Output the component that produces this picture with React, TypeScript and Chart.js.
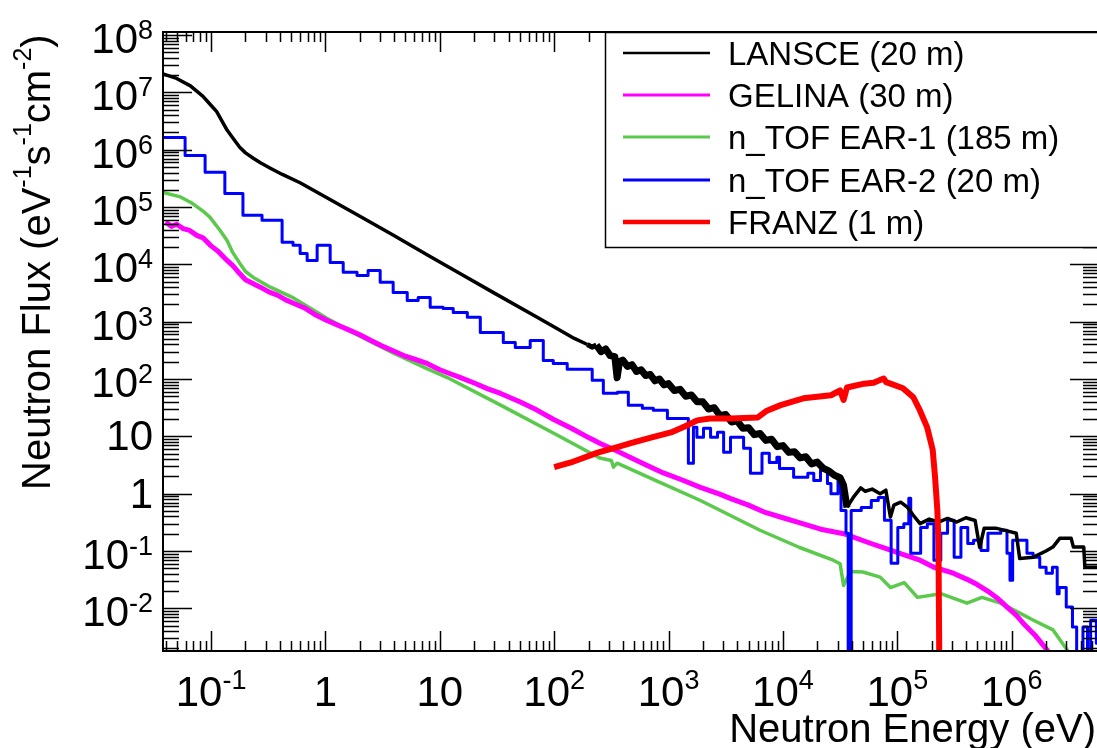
import React, { useEffect, useRef } from "react";
import { Chart, registerables } from "chart.js";

Chart.register(...registerables);

// Axis ranges (eV, flux)
const X_MIN = 0.038;
const X_MAX = 5.8e6;
const Y_MIN = 1.8e-3;
const Y_MAX = 1.13e8;

// Decade exponents that carry labels
const xTickExps = [-1, 0, 1, 2, 3, 4, 5, 6];
const yTickExps = [-2, -1, 0, 1, 2, 3, 4, 5, 6, 7, 8];

const xTitle = "Neutron Energy (eV)";
const seriesNames = [
  "LANSCE (20 m)",
  "GELINA (30 m)",
  "n_TOF EAR-1 (185 m)",
  "n_TOF EAR-2 (20 m)",
  "FRANZ (1 m)",
];
const seriesColors = ["#000000", "#ff00ff", "#5ac94c", "#0000ff", "#ff0000"];

// [energy eV, flux]
const lansce: [number, number][] = [
  [0.038, 2.1e7], [0.05, 1.75e7], [0.066, 1.3e7], [0.085, 8.5e6], [0.098, 6.2e6],
  [0.112, 4.6e6], [0.138, 2.2e6], [0.155, 1.6e6], [0.178, 1.1e6], [0.2, 8.8e5],
  [0.234, 7.1e5], [0.27, 5.9e5], [0.33, 4.75e5], [0.42, 3.7e5], [0.6, 2.65e5],
  [1.03, 1.45e5], [2.0, 6.9e4], [3.9, 3.25e4], [7.8, 1.45e4], [15, 6.9e3],
  [30, 3.15e3], [71, 1.19e3], [102, 790], [150, 510],
  [195, 400], [214, 360], [234, 390], [257, 300], [282, 335], [309, 255], [339, 245],
  [355, 105], [372, 200], [398, 214], [437, 166], [479, 178], [525, 135], [575, 145],
  [631, 115], [692, 120], [759, 93], [832, 100], [912, 79], [1000, 83], [1122, 63],
  [1259, 66], [1413, 50], [1585, 52.5], [1778, 40], [1995, 40], [2239, 30], [2512, 31.6],
  [2818, 22.9], [3162, 24], [3548, 17.8], [3981, 18.6], [4467, 13.8], [5012, 14.1],
  [5623, 10.7], [6310, 11.2], [7079, 8.5], [7943, 8.9], [8913, 6.6], [10000, 6.9],
  [11220, 5.25], [12589, 5.4], [14125, 4.2], [15849, 4.4], [17783, 3.3], [19953, 3.55],
  [22387, 2.8], [25119, 2.5], [28184, 2.1], [31623, 1.9], [33884, 1.4], [36308, 0.575],
  [41700, 0.89], [47900, 1.26], [52500, 1.1], [60300, 1.2], [70800, 1.0], [79400, 1.15],
  [87100, 0.39], [93300, 0.63], [107000, 0.71], [123000, 0.575], [138000, 0.42],
  [158000, 0.3], [190000, 0.36], [229000, 0.32], [275000, 0.37], [331000, 0.32],
  [398000, 0.38], [479000, 0.34], [525000, 0.115], [575000, 0.25], [724000, 0.25],
  [912000, 0.224], [1096000, 0.204], [1175000, 0.074], [1549000, 0.078], [1995000, 0.1],
  [2291000, 0.117], [2630000, 0.166], [3311000, 0.166], [3467000, 0.117], [4266000, 0.117],
  [4365000, 0.052], [6310000, 0.052],
];

const gelina: [number, number][] = [
  [0.04, 5.5e4], [0.045, 4.6e4], [0.05, 5.0e4], [0.057, 4.2e4], [0.065, 3.9e4],
  [0.075, 3.2e4], [0.085, 2.9e4], [0.1, 2.1e4], [0.115, 1.7e4], [0.138, 1.17e4],
  [0.155, 9.5e3], [0.178, 6.9e3], [0.2, 5.4e3], [0.23, 4.7e3], [0.27, 4.0e3],
  [0.32, 3.3e3], [0.38, 2.9e3], [0.45, 2.4e3], [0.525, 2.1e3], [0.65, 1.75e3],
  [0.8, 1.35e3], [1.03, 1.05e3], [1.3, 860], [1.6, 720], [2.0, 590], [2.5, 470],
  [3.1, 380], [3.9, 310], [5.0, 250], [6.3, 215], [7.8, 185], [10, 145], [12, 126],
  [15, 107], [20, 85], [26, 68], [34, 56], [50, 40], [70, 29], [100, 19.5], [140, 14],
  [200, 9.5], [250, 7.6], [350, 5.6], [500, 4.0], [630, 3.2], [900, 2.3], [1300, 1.75],
  [1900, 1.29], [2800, 0.98], [3500, 0.82], [5000, 0.63], [7000, 0.47], [10000, 0.38],
  [14100, 0.31], [21400, 0.24], [34000, 0.2], [58900, 0.135], [80000, 0.11],
  [110000, 0.088], [158000, 0.069], [209000, 0.052], [309000, 0.041], [407000, 0.032],
  [500000, 0.026], [617000, 0.02], [750000, 0.015], [912000, 0.0105], [1.1e6, 0.0075],
  [1.26e6, 0.0055], [1.6e6, 0.0034], [2.04e6, 0.00186], [2.3e6, 0.0014],
];

const nTofEar1: [number, number][] = [
  [0.038, 1.8e5], [0.054, 1.5e5], [0.069, 1.15e5], [0.085, 8.5e4], [0.098, 6.6e4],
  [0.12, 3.9e4], [0.138, 2.6e4], [0.155, 1.6e4], [0.178, 1.05e4], [0.2, 7.5e3],
  [0.234, 5.9e3], [0.33, 4.0e3], [0.525, 2.6e3], [1.03, 1.15e3], [2.0, 560],
  [3.9, 285], [7.8, 150], [11.5, 107], [34, 35], [100, 11.2], [250, 4.2], [316, 3.8],
  [330, 2.9], [355, 3.4], [794, 1.66], [1900, 0.76], [6300, 0.23], [14000, 0.115],
  [27500, 0.069], [31600, 0.06], [33900, 0.025], [38900, 0.044], [50000, 0.043],
  [70800, 0.035], [87100, 0.023], [115000, 0.028], [150000, 0.0155], [240000, 0.018],
  [407000, 0.0123], [550000, 0.0155], [800000, 0.0123], [1.05e6, 0.0093],
  [1.55e6, 0.0062], [2.3e6, 0.0042], [3.1e6, 0.0018], [3.4e6, 0.0012],
];

// histogram: [bin left edge, value]
const nTofEar2: [number, number][] = [
  [0.038, 1.64e6], [0.0593, 7.9e5], [0.0887, 4.03e5], [0.132, 1.73e5], [0.19, 7.2e4],
  [0.279, 5.85e4], [0.418, 2.42e4], [0.521, 2.15e4], [0.601, 1.55e4], [0.692, 1.17e4],
  [0.846, 2.15e4], [1.1, 1.08e4], [1.43, 7.25e3], [1.89, 6.4e3], [2.36, 7.85e3],
  [3.01, 4.85e3], [3.91, 3.24e3], [5.19, 2.35e3], [6.47, 2.65e3], [8.24, 1.78e3],
  [10.7, 1.7e3], [13.1, 1.45e3], [17.4, 1.19e3], [22.6, 650], [35.9, 435], [45.7, 356],
  [61.7, 470], [80.3, 211], [98.2, 187], [130, 148], [215, 95], [269, 56.5], [357, 58.5],
  [445, 34.9], [590, 31], [736, 28.4], [977, 20.5], [1490, 3.4], [1650, 14.4],
  [1770, 9.6], [2020, 13.8], [2330, 9.6], [2680, 11.8], [3030, 5.25], [3480, 9.6],
  [4530, 6.2], [5200, 2.27], [6560, 5.05], [7600, 3.5], [8850, 4.3], [9340, 2.76],
  [12400, 1.93], [16500, 2.27], [18600, 1.7], [21300, 2.55], [24500, 1.5], [26300, 1.0],
  [30300, 1.93], [32200, 0.51], [35600, 0.204], [37200, 1e-4], [39500, 0.51],
  [48400, 0.575], [59200, 0.76], [68200, 0.86], [77200, 0.343], [88300, 0.061],
  [101000, 0.257], [114000, 0.3], [126000, 0.83], [131000, 0.091], [160000, 0.257],
  [183000, 0.3], [209000, 0.069], [240000, 0.204], [275000, 0.343], [314000, 0.078],
  [360000, 0.257], [413000, 0.135], [464000, 0.154], [540000, 0.102], [620000, 0.204],
  [803000, 0.23], [910000, 0.091], [966000, 0.031], [1.02e6, 0.154], [1.36e6, 0.091],
  [1.54e6, 0.078], [1.76e6, 0.052], [2.0e6, 0.041], [2.27e6, 0.052], [2.5e6, 0.018],
  [2.6e6, 0.023], [3.0e6, 0.0105], [3.4e6, 0.0047], [3.7e6, 1e-4], [4.2e6, 0.0047],
  [4.6e6, 1e-4], [4.9e6, 0.0062], [5.5e6, 0.00245], [5.8e6, 0.00245],
];

const franz: [number, number][] = [
  [100, 2.9], [140, 3.5], [240, 5.2], [350, 6.4], [468, 7.6], [700, 9.5], [1050, 11.7],
  [1400, 15], [1780, 19], [2300, 20.5], [3470, 20.4], [6030, 21.4], [7240, 28],
  [9550, 35], [15100, 46], [26300, 52], [31600, 63], [33900, 43], [36300, 71],
  [51300, 83], [62000, 86], [75900, 102], [80000, 88], [87100, 83], [112000, 69],
  [138000, 48], [158000, 28], [182000, 14.5], [204000, 5.8], [214000, 1.9],
  [224000, 0.51], [229000, 0.135], [234000, 3e-4],
];

const FONT = '"Liberation Sans", Arial, Helvetica, sans-serif';

function expLabel(e: number): [string, string] {
  if (e === 0) return ["1", ""];
  if (e === 1) return ["10", ""];
  return ["10", String(e)];
}

function drawSup(
  ctx: CanvasRenderingContext2D,
  base: string,
  exp: string,
  x: number,
  baseline: number,
  align: "center" | "right",
  baseSize: number,
  supSize: number,
  raise: number
) {
  ctx.font = `${baseSize}px ${FONT}`;
  const wb = ctx.measureText(base).width;
  ctx.font = `${supSize}px ${FONT}`;
  const we = exp ? ctx.measureText(exp).width : 0;
  const total = wb + we;
  const sx = align === "center" ? x - total / 2 : x - total;
  ctx.textAlign = "left";
  ctx.textBaseline = "alphabetic";
  ctx.font = `${baseSize}px ${FONT}`;
  ctx.fillText(base, sx, baseline);
  if (exp) {
    ctx.font = `${supSize}px ${FONT}`;
    ctx.fillText(exp, sx + wb, baseline - raise);
  }
}

const decorPlugin = {
  id: "decor",
  afterDraw(chart: any) {
    const ctx: CanvasRenderingContext2D = chart.ctx;
    const xs = chart.scales.x;
    const ys = chart.scales.y;
    const { left, right, top, bottom } = chart.chartArea;
    ctx.save();
    ctx.fillStyle = "#000";
    ctx.strokeStyle = "#000";

    // frame
    ctx.lineWidth = 2;
    ctx.strokeRect(left, top, right - left, bottom - top);

    // ticks
    ctx.lineWidth = 1.5;
    ctx.beginPath();
    for (let d = -2; d <= 7; d++) {
      for (let m = 1; m <= 9; m++) {
        const v = m * Math.pow(10, d);
        if (v < X_MIN || v > X_MAX) continue;
        const px = Math.round(xs.getPixelForValue(v)) + 0.5;
        const len = m === 1 ? 20 : 10;
        ctx.moveTo(px, bottom);
        ctx.lineTo(px, bottom - len);
        ctx.moveTo(px, top);
        ctx.lineTo(px, top + len);
      }
    }
    for (let d = -3; d <= 8; d++) {
      for (let m = 1; m <= 9; m++) {
        const v = m * Math.pow(10, d);
        if (v < Y_MIN || v > Y_MAX) continue;
        const py = Math.round(ys.getPixelForValue(v)) + 0.5;
        const len = m === 1 ? 29 : 16;
        ctx.moveTo(left, py);
        ctx.lineTo(left + len, py);
        ctx.moveTo(right, py);
        ctx.lineTo(right - len, py);
      }
    }
    ctx.stroke();

    // tick labels
    xTickExps.forEach((e) => {
      const [b, s] = expLabel(e);
      const px = xs.getPixelForValue(Math.pow(10, e));
      drawSup(ctx, b, s, px, 706, "center", 42, 27, 17);
    });
    yTickExps.forEach((e) => {
      const [b, s] = expLabel(e);
      const py = ys.getPixelForValue(Math.pow(10, e));
      drawSup(ctx, b, s, 153, py + (s ? 18 : 14), "right", 42, 27, 14);
    });

    // x title
    ctx.font = `40px ${FONT}`;
    ctx.textAlign = "right";
    ctx.textBaseline = "alphabetic";
    ctx.fillText(xTitle, 1096, 742);

    // y title (rotated, with superscripts)
    ctx.save();
    ctx.translate(50, 490);
    ctx.rotate(-Math.PI / 2);
    const parts: [string, boolean][] = [
      ["Neutron Flux (eV", false],
      ["-1", true],
      ["s", false],
      ["-1", true],
      ["cm", false],
      ["-2", true],
      [")", false],
    ];
    let cx = 0;
    ctx.textAlign = "left";
    parts.forEach(([t, sup]) => {
      ctx.font = `${sup ? 25 : 40}px ${FONT}`;
      ctx.fillText(t, cx, sup ? -19 : 0);
      cx += ctx.measureText(t).width;
    });
    ctx.restore();

    // legend
    const lx = 605.5;
    const ly = 32.5;
    ctx.fillStyle = "#fff";
    ctx.fillRect(lx, ly, 600, 215);
    ctx.lineWidth = 1.5;
    ctx.strokeStyle = "#000";
    ctx.strokeRect(lx, ly, 600, 215);
    const rows = [53, 95, 137, 180, 222];
    const lw = [2.5, 3, 3, 3, 4.5];
    seriesNames.forEach((name, i) => {
      const y = rows[i];
      ctx.strokeStyle = seriesColors[i];
      ctx.lineWidth = lw[i];
      ctx.beginPath();
      ctx.moveTo(623, y);
      ctx.lineTo(710, y);
      ctx.stroke();
      ctx.fillStyle = "#000";
      ctx.font = `33px ${FONT}`;
      ctx.textAlign = "left";
      ctx.fillText(name, 728, y + 12);
    });

    ctx.restore();
  },
};

const toPts = (arr: [number, number][]) => arr.map(([x, y]) => ({ x, y }));

export default function App() {
  const ref = useRef<HTMLCanvasElement | null>(null);

  useEffect(() => {
    if (!ref.current) return;
    const chart = new Chart(ref.current, {
      type: "line",
      data: {
        datasets: [
          {
            label: seriesNames[0],
            data: toPts(lansce),
            borderColor: seriesColors[0],
            borderWidth: 3.5,
            pointRadius: 0,
            order: 1,
            segment: {
              borderWidth: (c: any) =>
                c.p0.parsed.x >= 230 && c.p0.parsed.x < 36000 ? 7 : c.p0.parsed.x >= 180 && c.p0.parsed.x < 230 ? 5 : 3.5,
            },
          } as any,
          {
            label: seriesNames[1],
            data: toPts(gelina),
            borderColor: seriesColors[1],
            borderWidth: 5,
            pointRadius: 0,
            order: 3,
          },
          {
            label: seriesNames[2],
            data: toPts(nTofEar1),
            borderColor: seriesColors[2],
            borderWidth: 3.5,
            pointRadius: 0,
            order: 4,
          },
          {
            label: seriesNames[3],
            data: toPts(nTofEar2),
            borderColor: seriesColors[3],
            borderWidth: 3,
            pointRadius: 0,
            stepped: "before",
            order: 2,
          },
          {
            label: seriesNames[4],
            data: toPts(franz),
            borderColor: seriesColors[4],
            borderWidth: 6,
            pointRadius: 0,
            order: 0,
          },
        ],
      },
      options: {
        responsive: false,
        animation: false,
        parsing: true,
        layout: { padding: { left: 163, top: 32, right: 3, bottom: 97 } },
        scales: {
          x: { type: "logarithmic", min: X_MIN, max: X_MAX, display: false },
          y: { type: "logarithmic", min: Y_MIN, max: Y_MAX, display: false },
        },
        plugins: {
          legend: { display: false },
          tooltip: { enabled: false },
        },
        elements: { line: { tension: 0, borderJoinStyle: "round" } },
      },
      plugins: [decorPlugin],
    } as any);
    return () => chart.destroy();
  }, []);

  return (
    <div
      style={{
        position: "fixed",
        left: 0,
        top: 0,
        width: 1097,
        height: 748,
        overflow: "hidden",
        background: "#fff",
      }}
    >
      <canvas ref={ref} width={1102} height={748} style={{ display: "block" }} />
    </div>
  );
}
